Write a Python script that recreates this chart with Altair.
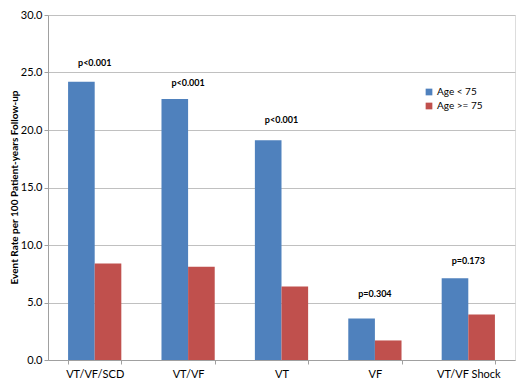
import altair as alt
import pandas as pd

categories = ["VT/VF/SCD", "VT/VF", "VT", "VF", "VT/VF Shock"]
groups = ["Age < 75", "Age >= 75"]
young = [24.2, 22.7, 19.1, 3.6, 7.1]
old = [8.4, 8.1, 6.4, 1.7, 3.95]
p_labels = ["p<0.001", "p<0.001", "p<0.001", "p=0.304", "p=0.173"]
p_heights = [25.8, 24.1, 20.9, 5.7, 8.6]
y_ticks = [0, 5, 10, 15, 20, 25, 30]

rows = []
for c, a, b in zip(categories, young, old):
    rows.append({"cat": c, "grp": groups[0], "val": a})
    rows.append({"cat": c, "grp": groups[1], "val": b})
df = pd.DataFrame(rows)
lab = pd.DataFrame({"cat": categories, "label": p_labels, "h": p_heights})

FONT = "Lato"
xscale = alt.Scale(domain=categories, paddingInner=0.43, paddingOuter=0.215)
yscale = alt.Scale(domain=[0, 30], nice=False)

bars = alt.Chart(df).mark_bar().encode(
    x=alt.X("cat:N", scale=xscale, sort=categories,
            axis=alt.Axis(title=None, labelAngle=0, tickBand="extent", labelFontSize=11,
                          labelColor="#000", domainColor="#a0a0a0", tickColor="#a0a0a0",
                          tickSize=4, labelPadding=4, labelFont=FONT)),
    xOffset=alt.XOffset("grp:N", sort=groups),
    y=alt.Y("val:Q", scale=yscale,
            axis=alt.Axis(title="Event Rate per 100 Patient-years Follow-up", values=y_ticks,
                          format=".1f", labelFontSize=11, labelColor="#000", titleFontSize=10,
                          titleFontWeight="bold", titleColor="#000", titleFont=FONT, labelFont=FONT,
                          gridColor="#c0c0c0", domainColor="#a0a0a0", tickColor="#a0a0a0",
                          tickSize=4, labelPadding=2, titleX=-34, titleY=172,
                          titleAngle=270, titleAlign="center", titleBaseline="middle")),
    color=alt.Color("grp:N", sort=groups,
                    scale=alt.Scale(domain=groups, range=["#4F81BD", "#C0504D"]),
                    legend=alt.Legend(title=None, orient="none", legendX=376, legendY=72,
                                      symbolType="square", symbolSize=45, labelFontSize=10,
                                      labelFont=FONT, labelColor="#000", rowPadding=4,
                                      symbolStrokeWidth=0, labelOffset=3)),
)

texts = alt.Chart(lab).mark_text(fontSize=9, fontWeight="bold", font=FONT, color="#000",
                                 baseline="middle").encode(
    x=alt.X("cat:N", scale=xscale, sort=categories),
    y=alt.Y("h:Q", scale=yscale),
    text="label:N",
)

chart = alt.layer(bars, texts).properties(
    width=467, height=345,
    autosize=alt.AutoSizeParams(type="none"),
    padding={"left": 40, "top": 7, "right": 2, "bottom": 23},
).configure_view(stroke=None).configure(background="white")

chart.save("out.html", embed_options={"renderer": "svg", "actions": False})
